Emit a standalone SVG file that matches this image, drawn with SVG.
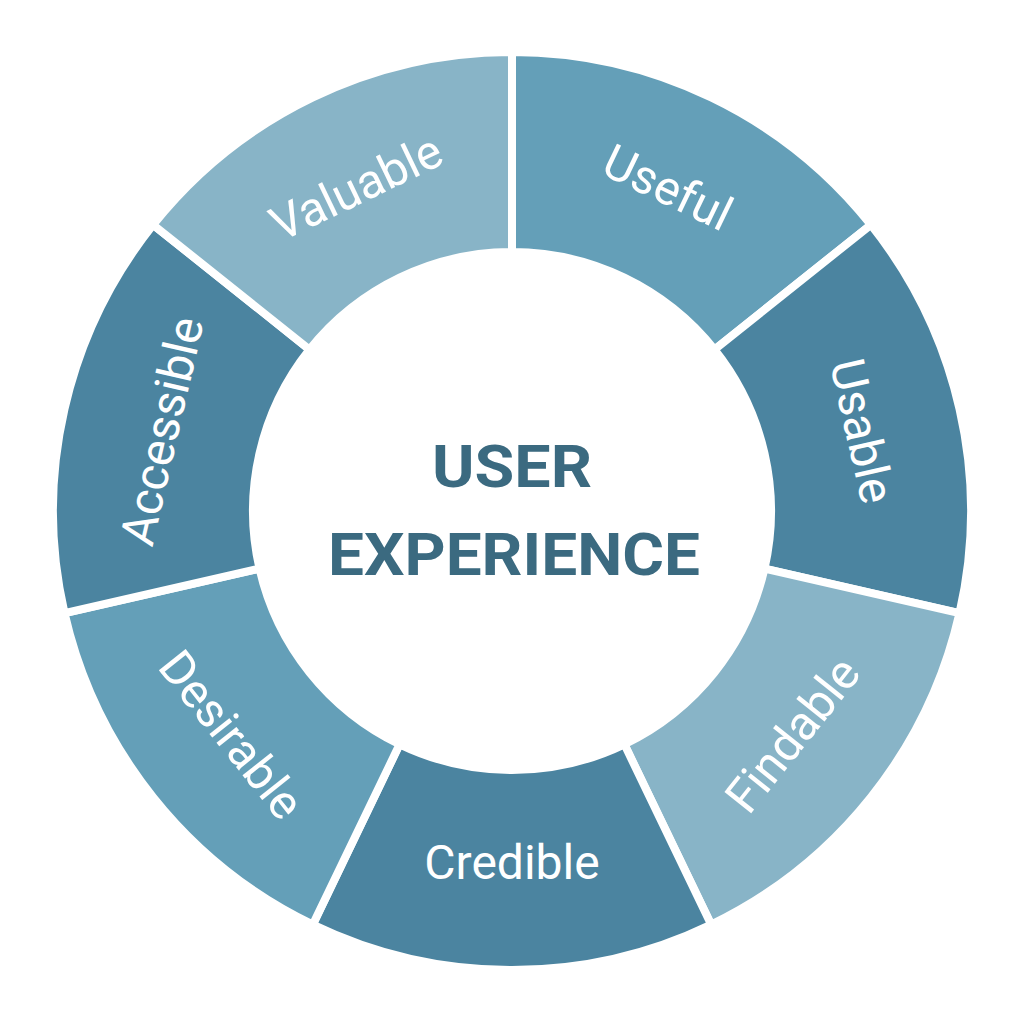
<svg xmlns="http://www.w3.org/2000/svg" width="1024" height="1024" viewBox="0 0 1024 1024">
<style>
.seg{stroke:#fff;stroke-width:8;stroke-linejoin:miter}
.a{fill:#649fb8}.b{fill:#4b84a0}.c{fill:#88b4c7}
.lbl{font-family:Roboto,"Liberation Sans",sans-serif;font-size:48px;fill:#fff;text-anchor:middle;dominant-baseline:central}
.ctr{font-family:Roboto,"Liberation Sans",sans-serif;font-size:60px;font-weight:bold;fill:#3b6a80;text-anchor:middle}
</style>
<rect width="1024" height="1024" fill="#fff"/>
<g id="useful"><path class="seg a" d="M512,52 A459,459 0 0 1 870.86,224.82 L714.49,349.52 A259,259 0 0 0 512,252 Z"/><text class="lbl" transform="translate(667.8,187.6) rotate(25.71)">Useful</text></g>
<g id="usable"><path class="seg b" d="M870.86,224.82 A459,459 0 0 1 959.49,613.14 L764.51,568.63 A259,259 0 0 0 714.49,349.52 Z"/><text class="lbl" transform="translate(862,431.1) rotate(77.14)">Usable</text></g>
<g id="findable"><path class="seg c" d="M959.49,613.14 A459,459 0 0 1 711.15,924.55 L624.38,744.35 A259,259 0 0 0 764.51,568.63 Z"/><text class="lbl" transform="translate(792.7,734.8) rotate(-51.43)">Findable</text></g>
<g id="credible"><path class="seg b" d="M711.15,924.55 A459,459 0 0 1 312.85,924.55 L399.62,744.35 A259,259 0 0 0 624.38,744.35 Z"/><text class="lbl" transform="translate(512,862)">Credible</text></g>
<g id="desirable"><path class="seg a" d="M312.85,924.55 A459,459 0 0 1 64.51,613.14 L259.49,568.63 A259,259 0 0 0 399.62,744.35 Z"/><text class="lbl" transform="translate(231.3,734.8) rotate(51.43)">Desirable</text></g>
<g id="accessible"><path class="seg b" d="M64.51,613.14 A459,459 0 0 1 153.14,224.82 L309.51,349.52 A259,259 0 0 0 259.49,568.63 Z"/><text class="lbl" transform="translate(162,431.1) rotate(-77.14)">Accessible</text></g>
<g id="valuable"><path class="seg c" d="M153.14,224.82 A459,459 0 0 1 512,52 L512,252 A259,259 0 0 0 309.51,349.52 Z"/><text class="lbl" transform="translate(356.2,187.6) rotate(-25.71)">Valuable</text></g>
<g id="center"><text class="ctr" x="512" y="487" textLength="160" lengthAdjust="spacingAndGlyphs">USER</text><text class="ctr" x="514" y="575" textLength="372" lengthAdjust="spacingAndGlyphs">EXPERIENCE</text></g>
<g id="connectors"/>
</svg>
